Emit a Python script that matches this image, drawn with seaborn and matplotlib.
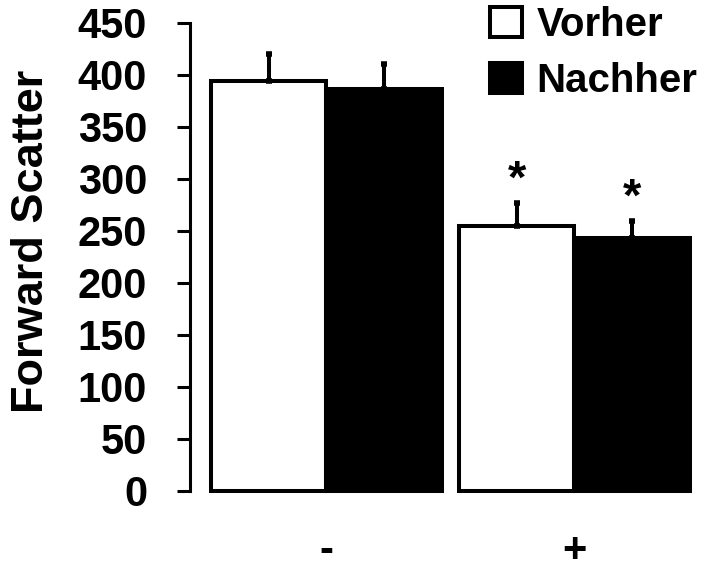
import matplotlib
matplotlib.use("Agg")
import matplotlib.pyplot as plt
from matplotlib.container import BarContainer
import seaborn as sns
import pandas as pd
import numpy as np

# ---- data ----
groups = ["-", "+"]
series = ["Vorher", "Nachher"]
vorher = [394, 255]
nachher = [387, 243]
vorher_err = [26, 22]
nachher_err = [24, 17]
vorher_star = ["", "*"]
nachher_star = ["", "*"]
y_ticks = [0, 50, 100, 150, 200, 250, 300, 350, 400, 450]
y_label = "Forward Scatter"

df = pd.DataFrame({
    "group": groups * 2,
    "series": [series[0]] * 2 + [series[1]] * 2,
    "value": vorher + nachher,
})
errs = [vorher_err, nachher_err]
stars = [vorher_star, nachher_star]

sns.set_style("ticks")
plt.rcParams["font.family"] = ["Liberation Sans", "DejaVu Sans"]
plt.rcParams["font.weight"] = "bold"
for k in ["text.color", "axes.labelcolor", "xtick.color", "ytick.color",
          "axes.edgecolor"]:
    plt.rcParams[k] = "black"

fig = plt.figure(figsize=(7.07, 5.65), dpi=100)
ax = fig.add_axes([190 / 707, 1 - 491 / 565, (698.5 - 190) / 707, (491 - 23) / 565])

sns.barplot(data=df, x="group", y="value", hue="series", order=groups,
            hue_order=series, palette=["white", "black"], edgecolor="black",
            linewidth=2.9, width=0.93, errorbar=None, ax=ax, saturation=1)

bar_conts = [c for c in ax.containers if isinstance(c, BarContainer)]
for i, cont in enumerate(bar_conts):
    bars = [b for b in cont if b is not None]
    xs = [b.get_x() + b.get_width() / 2 for b in bars]
    hs = [b.get_height() for b in bars]
    for b in bars:
        b.set_clip_on(False)
    e = np.array(errs[i])
    ax.errorbar(xs, hs, yerr=[np.zeros_like(e), e], fmt="none", ecolor="black",
                elinewidth=2.9, capsize=2.4, capthick=4.0, clip_on=False, zorder=1)
    for x, h, err, s in zip(xs, hs, e, stars[i]):
        if s:
            ax.annotate(s, (x, h + err), xytext=(0, 7), textcoords="offset points",
                        ha="center", va="baseline", fontsize=34, fontweight="bold",
                        color="black")

ax.set_ylim(0, 450)
ax.set_xlim(-0.55, 1.5)
ax.set_yticks(y_ticks)
ax.set_yticklabels([str(t) for t in y_ticks])
ax.tick_params(axis="y", direction="out", length=9.4, width=2.2, pad=21.5,
               labelsize=30, colors="black")
ax.tick_params(axis="x", length=0, pad=29, labelsize=30, colors="black")
for lab in ax.get_xticklabels() + ax.get_yticklabels():
    lab.set_fontweight("bold")
ax.set_xlabel("")
ax.set_ylabel(y_label, fontsize=32.5, fontweight="bold", color="black")
ax.yaxis.set_label_coords(-0.272, 0.534)
for sp in ["top", "right", "bottom"]:
    ax.spines[sp].set_visible(False)
ax.spines["left"].set_linewidth(2.2)
ax.spines["left"].set_color("black")

handles, labels = ax.get_legend_handles_labels()
if ax.get_legend() is not None:
    ax.get_legend().remove()
fig.legend(handles, labels, loc="upper left", bbox_to_anchor=(490 / 707, 1 - 6 / 565),
           frameon=False, prop={"weight": "bold", "size": 29},
           handlelength=0.8, handleheight=0.75, handletextpad=0.35,
           labelspacing=0.45, borderpad=0, borderaxespad=0)

fig.savefig("out.png", dpi=100, facecolor="white")
